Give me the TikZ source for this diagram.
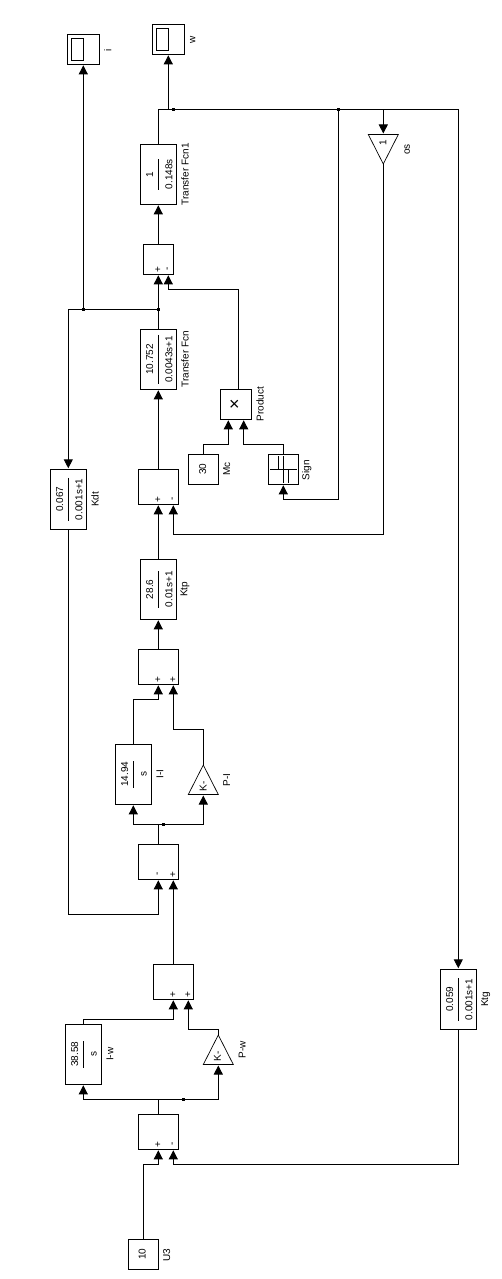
\documentclass[tikz,border=0pt]{standalone}
\usepackage{fontspec}
\setmainfont{Liberation Sans}
\usetikzlibrary{arrows.meta,shapes.geometric}
\tikzset{
  block/.style={draw=black,line width=0.9pt,fill=white,inner sep=0pt,outer sep=0pt,rectangle},
  gain/.style={draw=black,line width=0.7pt,fill=white,inner sep=0pt,outer sep=0pt,isosceles triangle,isosceles triangle stretches,minimum width=30pt,minimum height=29.5pt},
  txt/.style={font=\fontsize{10}{10}\selectfont,inner sep=0pt,outer sep=0pt,rotate=90,text=black},
  wire/.style={line width=0.9pt,draw=black},
  arr/.style={wire,-{Triangle[width=9pt,length=9pt]},shorten >=1pt},
  dot/.style={fill=black,inner sep=0pt,minimum size=3pt,rectangle},
  bar/.style={line width=0.9pt,draw=black},
}
% name, cx, cy, bar half length, num, den, label, label offset
\newcommand{\tfblock}[8]{%
  \node[block,minimum width=36pt,minimum height=60pt] (#1) at (#2,#3) {};
  \draw[bar] (#2,#3-#4) -- (#2,#3+#4);
  \node[txt] (#1-n) at (#2-8.5,#3) {#5};
  \node[txt] (#1-d) at (#2+10.7,#3) {#6};
  \node[txt] (#1-l) at (#2+#8,#3) {#7};
}
% name, cx, cy, width, xa, signa, xb, signb
\newcommand{\sumblock}[8]{%
  \node[block,minimum width=#4pt,minimum height=35pt] (#1) at (#2,#3) {};
  \coordinate (#1-a) at (#5,#3+17.5);
  \coordinate (#1-b) at (#7,#3+17.5);
  \node[txt] (#1-sa) at (#5,#3+12.5) {#6};
  \node[txt] (#1-sb) at (#7,#3+12.5) {#8};
}
\begin{document}
\begin{tikzpicture}[x=1pt,y=-1pt]
\useasboundingbox[fill=white] (0,0) rectangle (502,1279);
% scopes
\node[block,minimum width=32pt,minimum height=30pt] (scopei) at (83.3,49.3) {};
\node[block,minimum width=12pt,minimum height=22pt] (scopeii) at (77.3,49.3) {};
\node[txt] (li) at (107.7,50) {i};
\node[block,minimum width=32pt,minimum height=30pt] (scopew) at (168.3,39.3) {};
\node[block,minimum width=12pt,minimum height=22pt] (scopewi) at (162.3,39.3) {};
\node[txt] (lw) at (192.7,40) {w};
% transfer functions
\tfblock{tfa}{158.3}{174.3}{15.3}{1}{0.148s}{Transfer Fcn1}{26.7}
\tfblock{tfb}{158.3}{359.3}{24.5}{10.752}{0.0043s+1}{Transfer Fcn}{26.7}
\tfblock{kdt}{68.3}{499.3}{21.5}{0.067}{0.001s+1}{Kdt}{26.7}
\tfblock{ktp}{158.3}{589.3}{18.3}{28.6}{0.01s+1}{Ktp}{26.7}
\tfblock{ktg}{458.3}{999.3}{21.3}{0.059}{0.001s+1}{Ktg}{27.4}
\tfblock{ii}{133.3}{774.3}{13.3}{14.94}{s}{I-I}{26.7}
\tfblock{iw}{83.3}{1054.3}{13.3}{38.58}{s}{I-w}{26.7}
% sums
\node[block,minimum width=30pt,minimum height=30pt] (sa) at (158.3,259.3) {};
\coordinate (sa-a) at (158.3,274.3);
\coordinate (sa-b) at (168.3,274.3);
\node[txt] (sa-sa) at (158.3,269.3) {+};
\node[txt] (sa-sb) at (168.3,269.3) {-};
\sumblock{sb}{158.3}{486.8}{40}{158.3}{+}{173.3}{-}
\sumblock{sc}{158.3}{666.8}{40}{158.3}{+}{173.3}{+}
\sumblock{sd}{158.3}{861.8}{40}{158.3}{-}{173.3}{+}
\sumblock{se}{173.3}{981.8}{40}{173.3}{+}{188.3}{+}
\sumblock{sf}{158.3}{1131.8}{40}{158.3}{+}{173.3}{-}
% product, constants, sign
\node[block,minimum width=31pt,minimum height=30pt] (prod) at (235.8,404.3) {};
\node[txt,font=\fontsize{18}{18}\selectfont] (prodx) at (235.3,404.3) {×};
\node[txt] (lprod) at (260,404.3) {Product};
\node[block,minimum width=30pt,minimum height=30pt] (mc) at (203.3,469.3) {};
\node[txt] (mcv) at (202.7,469.3) {30};
\node[txt] (lmc) at (226.7,469) {Mc};
\node[block,minimum width=30pt,minimum height=30pt] (sign) at (283.3,469.3) {};
\draw[bar] (270,469.3) -- (296.7,469.3);
\draw[bar] (283.3,456) -- (283.3,483.3);
\draw[bar] (278.3,456) -- (278.3,469.3);
\draw[bar] (288.3,469.3) -- (288.3,482.6);
\node[txt] (lsign) at (306.7,470) {Sign};
\node[block,minimum width=30pt,minimum height=30pt] (uc) at (143.3,1254.3) {};
\node[txt] (ucv) at (142.3,1254.3) {10};
\node[txt] (luc) at (166.7,1255) {U3};
% gains
\node[gain,shape border rotate=270,anchor=apex] (os) at (383.3,164) {};
\node[txt] (osv) at (383,142.7) {1};
\node[txt] (los) at (407.3,149.3) {os};
\node[gain,shape border rotate=90,anchor=apex] (pi) at (203.3,765) {};
\node[txt] (piv) at (203.3,786) {K-};
\node[txt] (lpi) at (226.7,780) {P-I};
\node[gain,shape border rotate=90,anchor=apex] (pw) at (218.3,1035) {};
\node[txt] (pwv) at (217.5,1056) {K-};
\node[txt] (lpw) at (242.3,1050) {P-w};
% junctions
\coordinate (b1) at (158.3,109.3);
\coordinate (j1) at (168.3,109.3);
\node[dot] (d1) at (173.3,109.3) {};
\node[dot] (d2) at (338.3,109.3) {};
\coordinate (j3) at (383.3,109.3);
\coordinate (b2) at (458.3,109.3);
\node[dot] (d3) at (158.3,309.3) {};
\node[dot] (d4) at (83.3,309.3) {};
\coordinate (b3) at (68.3,309.3);
\coordinate (s1) at (283.3,499.3);
\coordinate (s2) at (173.3,534.3);
\coordinate (p1) at (168.3,289.3);
\coordinate (m1) at (228.3,444.3);
\coordinate (m2) at (243.7,444.3);
\coordinate (c1) at (158.3,699.3);
\coordinate (c2) at (173.3,729.3);
\coordinate (e0) at (158.3,824.3);
\node[dot] (d5) at (163.3,824.3) {};
\coordinate (k1) at (158.3,914.3);
\coordinate (e1) at (173.3,1019.3);
\coordinate (e2) at (188.3,1029.3);
\coordinate (f0) at (158.3,1099.3);
\node[dot] (d6) at (183.3,1099.3) {};
\coordinate (u1) at (158.3,1164.3);
\coordinate (u2) at (173.3,1164.3);
% wires
\draw[arr] (tfa.north) |- (b2) -- (ktg.north);
\draw[arr] (j1) -- (j1 |- scopew.south);
\draw[arr] (j3) -- (os.lower side);
\draw[arr] (d2.center) |- (s1) -- (sign.south);
\draw[arr] (os.apex) |- (s2) -- (sb-b);
\draw[arr] (sa.north) -- (tfa.south);
\draw[arr] (tfb.north) -- (sa-a);
\draw[arr] (d3.center) -| (kdt.north);
\draw[arr] (d4.center) -- (d4 |- scopei.south);
\draw[arr] ([xshift=2.5pt]prod.north) |- (p1) -- (sa-b);
\draw[arr] (mc.north) |- (m1) -- (m1 |- prod.south);
\draw[arr] (sign.north) |- (m2) -- (m2 |- prod.south);
\draw[arr] (sb.north) -- (tfb.south);
\draw[arr] (ktp.north) -- (sb-a);
\draw[arr] (sc.north) -- (ktp.south);
\draw[arr] (ii.north) |- (c1) -- (sc-a);
\draw[arr] (pi.apex) |- (c2) -- (sc-b);
\draw[wire] (sd.north) -- (e0);
\draw[arr] (e0) -| (ii.south);
\draw[arr] (e0) -| (pi.lower side);
\draw[arr] (kdt.south) |- (k1) -- (sd-a);
\draw[arr] (se.north) -- (sd-b);
\draw[arr] (iw.north) |- (e1) -- (se-a);
\draw[arr] (pw.apex) |- (e2) -- (se-b);
\draw[wire] (sf.north) -- (f0);
\draw[arr] (f0) -| (iw.south);
\draw[arr] (f0) -| (pw.lower side);
\draw[arr] (uc.north) |- (u1) -- (sf-a);
\draw[arr] (ktg.south) |- (u2) -- (sf-b);
\end{tikzpicture}
\end{document}
